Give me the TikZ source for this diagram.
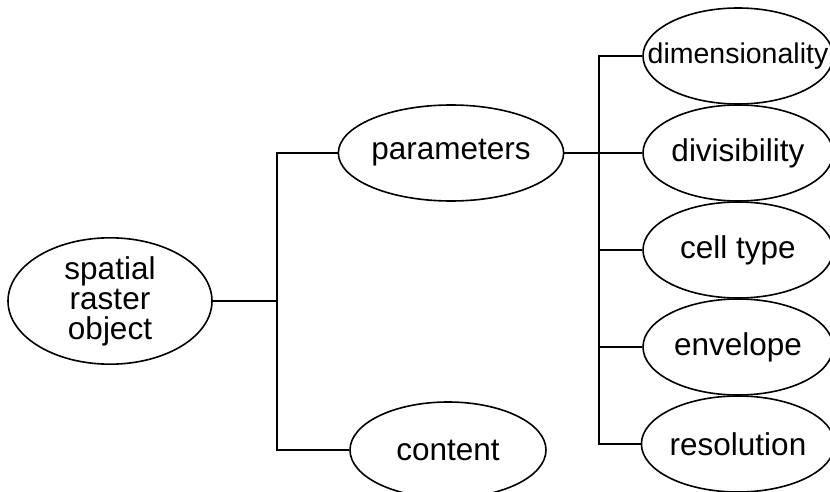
\documentclass[tikz,border=0pt]{standalone}
\usepackage{fontspec}
\setmainfont{Liberation Sans}
\usetikzlibrary{shapes.geometric}
\begin{document}
\begin{tikzpicture}[x=1pt, y=-1pt, line width=1.6pt,
  globo/.style={draw, ellipse, inner sep=0pt, minimum width=192pt, minimum height=96pt, align=center, font=\fontsize{31.5}{30}\selectfont}]
\useasboundingbox (0,0) rectangle (830,492);
\node[globo, minimum width=204pt, minimum height=118pt] (sro) at (110,301) {spatial\\raster\\object};
\node[globo] (par) at (451,153) {parameters};
\node[globo, minimum width=196pt] (con) at (448,450) {content};
\node[globo, minimum width=190pt] (dim) at (738,56)  {\makebox[110pt]{\fontsize{28.5}{30}\selectfont dimensionality}};
\node[globo, minimum width=190pt] (div) at (738,153) {divisibility};
\node[globo, minimum width=190pt] (cel) at (738,250) {cell type};
\node[globo, minimum width=190pt] (env) at (738,347) {envelope};
\node[globo, minimum width=190pt] (res) at (738,444) {resolution};
\coordinate (j1) at (277,301);
\coordinate (j2) at (599,153);
\draw (sro) -- (j1);
\draw (par) -| (j1) |- (con);
\draw (par) -- (div);
\draw (dim) -| (j2) |- (res);
\draw (j2 |- cel) -- (cel);
\draw (j2 |- env) -- (env);
\end{tikzpicture}
\end{document}
